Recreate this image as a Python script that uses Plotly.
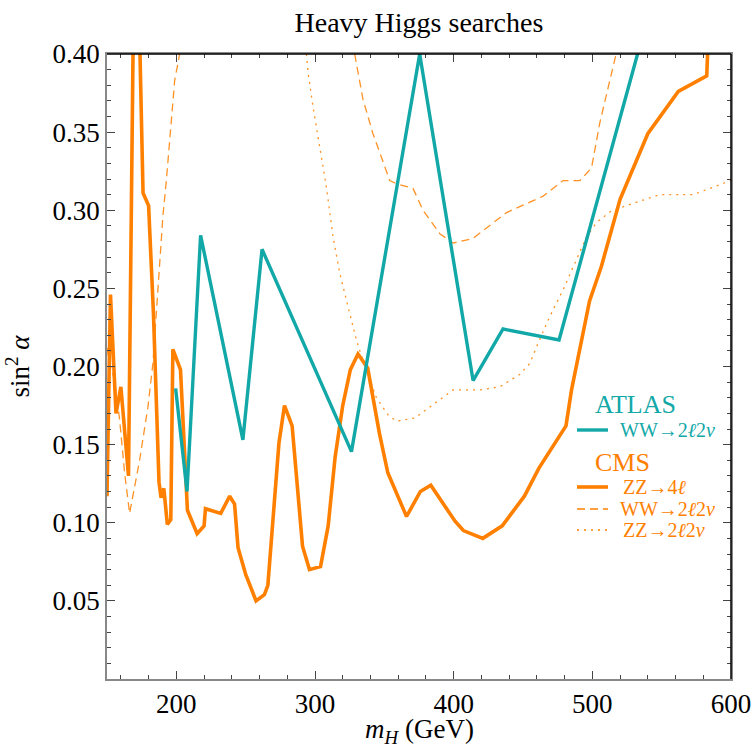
import plotly.graph_objects as go

# CMS ZZ -> 4l (thick orange)
cms_zz4l_x = [150, 152.5, 156.5, 160, 165.5, 169, 173.3, 176, 180, 183.5, 187.5, 189, 191, 193.5, 196,
              197.5, 203, 208, 215, 220, 221, 232, 238.5, 242, 244.5, 250, 257.5, 263.5, 266, 274,
              278, 283.5, 291, 296, 304, 309.5, 314.5, 320, 325.5, 331, 338, 346.5, 352.5, 366, 376,
              383.5, 401, 407, 421, 435, 451, 461.5, 481, 485, 498, 500.5, 506.5, 520, 540, 562,
              582.5, 584]
cms_zz4l_y = [0.117, 0.246, 0.170, 0.187, 0.130, 0.42, 0.42, 0.311, 0.303, 0.234, 0.126, 0.116, 0.122,
              0.099, 0.102, 0.211, 0.198, 0.108, 0.093, 0.098, 0.109, 0.106, 0.117, 0.112, 0.084,
              0.067, 0.050, 0.054, 0.060, 0.151, 0.175, 0.162, 0.085, 0.070, 0.072, 0.098, 0.142,
              0.175, 0.198, 0.208, 0.199, 0.157, 0.132, 0.104, 0.120, 0.124, 0.101, 0.095, 0.090,
              0.098, 0.117, 0.135, 0.162, 0.185, 0.242, 0.249, 0.264, 0.307, 0.349, 0.376, 0.386,
              0.42]

# ATLAS WW -> 2l2nu (thick teal)
atlas_ww_x = [199.5, 207.7, 217.5, 248, 261.8, 326.3, 375.5, 414, 435.6, 476, 545]
atlas_ww_y = [0.186, 0.120, 0.284, 0.153, 0.275, 0.1455, 0.400, 0.191, 0.224, 0.217, 0.44]

# CMS WW -> 2l2nu (dashed)
cms_ww_x = [150, 151.9, 155.5, 159.1, 162.7, 166.3, 173.5, 179.5, 183.1, 186.7, 190.3, 192.8, 195.2,
            198.8, 202.4, None, 328.6, 334.6, 341.8, 353.9, 358.7, 370.7, 377.9, 390, 399.6, 414,
            438.1, 464.5, 478.9, 491, 499.4, 505.4, 512.6, 516.9]
cms_ww_y = [0.212, 0.202, 0.191, 0.166, 0.132, 0.106, 0.140, 0.174, 0.202, 0.252, 0.296, 0.319, 0.347,
            0.383, 0.400, None, 0.400, 0.371, 0.349, 0.319, 0.317, 0.314, 0.300, 0.285, 0.279, 0.282,
            0.2985, 0.309, 0.319, 0.319, 0.327, 0.356, 0.383, 0.399]

# CMS ZZ -> 2l2nu (dotted)
cms_zz2l_x = [293.8, 295, 298.6, 303.4, 308.2, 313, 317.8, 325, 329.9, 335.9, 344.3, 352.7, 358.7,
              371.9, 382.8, 399.6, 418.8, 433.3, 447.7, 454.9, 460.9, 469.3, 478.9, 495.8, 503,
              512.6, 524.6, 548.7, 572.7, 596.8, 600]
cms_zz2l_y = [0.400, 0.388, 0.366, 0.339, 0.315, 0.283, 0.260, 0.234, 0.217, 0.200, 0.180, 0.169,
              0.165, 0.167, 0.174, 0.185, 0.185, 0.187, 0.195, 0.202, 0.215, 0.232, 0.249, 0.283,
              0.292, 0.299, 0.303, 0.310, 0.310, 0.318, 0.319]

x_ticks = [200, 300, 400, 500, 600]
y_ticks = [0.05, 0.10, 0.15, 0.20, 0.25, 0.30, 0.35, 0.40]

ORANGE = "#FF8000"
TEAL = "#12A8A8"
FONT = "Liberation Serif, Times New Roman, serif"

fig = go.Figure()
fig.add_trace(go.Scatter(x=cms_zz2l_x, y=cms_zz2l_y, mode="lines",
                         line=dict(color=ORANGE, width=1.3, dash="2px,5px"), opacity=0.85))
fig.add_trace(go.Scatter(x=cms_ww_x, y=cms_ww_y, mode="lines", connectgaps=False,
                         line=dict(color=ORANGE, width=1.3, dash="8px,5px"), opacity=0.85))
fig.add_trace(go.Scatter(x=cms_zz4l_x, y=cms_zz4l_y, mode="lines",
                         line=dict(color=ORANGE, width=3.6)))
fig.add_trace(go.Scatter(x=atlas_ww_x, y=atlas_ww_y, mode="lines",
                         line=dict(color=TEAL, width=3.4)))

axis_common = dict(showgrid=False, zeroline=False, showline=True, linecolor="#888888",
                   linewidth=1.5, mirror="ticks", ticks="inside", ticklen=8, tickwidth=1.3,
                   tickcolor="#444444", automargin=False,
                   tickfont=dict(family=FONT, size=27, color="black"))

fig.update_layout(
    width=754, height=749,
    margin=dict(l=107, r=23, t=54, b=70),
    plot_bgcolor="white", paper_bgcolor="white",
    showlegend=False,
    font=dict(family=FONT, color="black"),
    title=dict(text="Heavy Higgs searches", x=0.5556, xanchor="center", y=0.971, yanchor="middle",
               font=dict(family=FONT, size=28, color="black")),
    xaxis=dict(range=[150, 600], tickvals=x_ticks, ticktext=[str(v) for v in x_ticks],
               minor=dict(dtick=20, tick0=0, ticks="inside", ticklen=4, tickcolor="#444444"),
               **axis_common),
    yaxis=dict(range=[0, 0.40], tickvals=y_ticks, ticktext=["%.2f" % v for v in y_ticks],
               minor=dict(dtick=0.01, tick0=0, ticks="inside", ticklen=4, tickcolor="#444444"),
               title=dict(text="sin<sup>2</sup> <i>α</i>", font=dict(family=FONT, size=27),
                          standoff=15),
               **axis_common),
)

# black top/right frame
fig.add_shape(type="line", xref="paper", yref="paper", x0=0, x1=1, y0=1, y1=1,
              line=dict(color="black", width=1.5), layer="above")
fig.add_shape(type="line", xref="paper", yref="paper", x0=1, x1=1, y0=0, y1=1,
              line=dict(color="black", width=1.5), layer="above")

def px_x(p):
    return (p - 107) / (731 - 107)

def px_y(p):
    return (679 - p) / (679 - 54)

# x-axis title
fig.add_annotation(text="<i>m</i><sub><i>H</i></sub> (GeV)", xref="paper", yref="paper",
                   x=0.5, y=px_y(731), xanchor="center", yanchor="middle", showarrow=False,
                   font=dict(family=FONT, size=27, color="black"))

# legend (manual)
legend_rows = [
    ("ATLAS", 593, 404, TEAL, None, None),
    ("WW→2<i>ℓ</i>2<i>ν</i>", 618, 430, TEAL, "solid", 3.4),
    ("CMS", 593, 462, ORANGE, None, None),
    ("ZZ→4<i>ℓ</i>", 621, 487, ORANGE, "solid", 3.6),
    ("WW→2<i>ℓ</i>2<i>ν</i>", 618, 509, ORANGE, "8px,5px", 1.3),
    ("ZZ→2<i>ℓ</i>2<i>ν</i>", 621, 530, ORANGE, "2px,5px", 1.3),
]
for text, tx, ty, col, dash, w in legend_rows:
    fig.add_annotation(text=text, xref="paper", yref="paper", x=px_x(tx), y=px_y(ty),
                       xanchor="left", yanchor="middle", showarrow=False,
                       font=dict(family=FONT, size=20 if dash else 26, color=col))
    if dash:
        fig.add_shape(type="line", xref="paper", yref="paper", x0=px_x(577), x1=px_x(608),
                      y0=px_y(ty), y1=px_y(ty), line=dict(color=col, width=w, dash=dash))

fig.write_html("out.html", config={"displayModeBar": False},
               post_script="document.body.style.margin='0px';document.body.style.padding='0px';"
                           "document.body.style.overflow='hidden';")
